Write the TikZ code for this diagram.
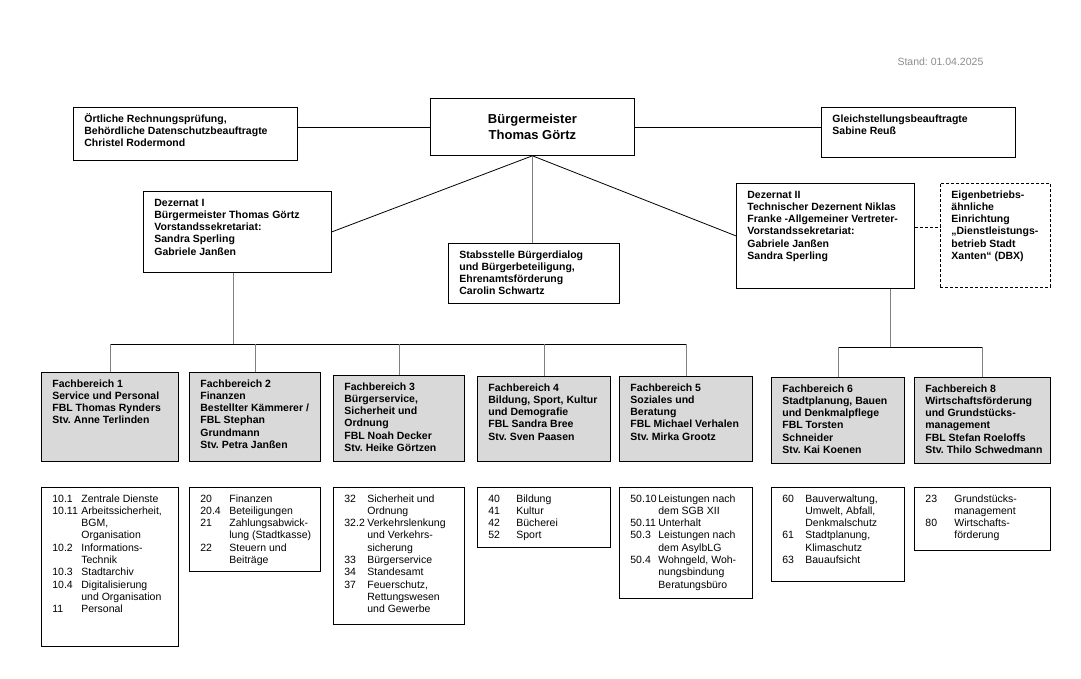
\documentclass[tikz,border=0pt]{standalone}
\usepackage{fontspec}
\setmainfont{Liberation Sans}
\usepackage{xcolor}
\frenchspacing

\definecolor{fbgray}{RGB}{217,217,217}
\definecolor{linegray}{RGB}{128,128,128}
\definecolor{standgray}{RGB}{140,140,140}

\newcommand{\boxtxt}[3]{%
\begin{minipage}[t][#2][t]{#1}\vspace*{6pt}\hspace*{11pt}%
\begin{tabular}[t]{@{}l@{}}#3\end{tabular}\end{minipage}}
\newcommand{\listtxt}[4]{%
\begin{minipage}[t][#2][t]{#1}\vspace*{6pt}\hspace*{11pt}%
\begin{tabular}[t]{@{}p{#3}@{}l@{}}#4\end{tabular}\end{minipage}}

\begin{document}
\begin{tikzpicture}[x=1pt,y=-1pt,
  box/.style={draw, line width=0.8pt, anchor=north west, inner sep=0pt,
    font=\fontsize{10.5}{12.3}\selectfont\bfseries},
  fbbox/.style={box, fill=fbgray},
  lstbox/.style={box, font=\fontsize{10.5}{12.3}\selectfont},
  dbxbox/.style={box, dash pattern=on 3pt off 2pt},
  link/.style={line width=0.8pt},
  drop/.style={line width=0.8pt, draw=linegray}]
\useasboundingbox (0,0) rectangle (1081,678);

\node[anchor=west, text=standgray, font=\fontsize{10.5}{12.3}\selectfont] (stand) at (894,62) {Stand: 01.04.2025};

\node[box, font=\fontsize{13}{16}\selectfont\bfseries, minimum width=204pt, minimum height=57pt, align=center] (bm) at (430,98) {Bürgermeister\\Thomas Görtz};
\node[box] (rpa) at (73,107) {\boxtxt{224pt}{53pt}{Örtliche Rechnungsprüfung,\\Behördliche Datenschutzbeauftragte\\Christel Rodermond}};
\node[box] (gst) at (821,107) {\boxtxt{194pt}{50pt}{Gleichstellungsbeauftragte\\Sabine Reuß}};

\node[box] (dzI) at (143,191) {\boxtxt{188pt}{81pt}{Dezernat I\\Bürgermeister Thomas Görtz\\Vorstandssekretariat:\\Sandra Sperling\\Gabriele Janßen}};
\node[box] (stab) at (448,243) {\boxtxt{171pt}{60pt}{Stabsstelle Bürgerdialog\\und Bürgerbeteiligung,\\Ehrenamtsförderung\\Carolin Schwartz}};
\node[box] (dzII) at (736,183) {\boxtxt{178pt}{105pt}{Dezernat II\\Technischer Dezernent Niklas\\Franke -Allgemeiner Vertreter-\\Vorstandssekretariat:\\Gabriele Janßen\\Sandra Sperling}};
\node[dbxbox] (dbx) at (940,183) {\boxtxt{110pt}{104pt}{Eigenbetriebs-\\ähnliche\\Einrichtung\\„Dienstleistungs-\\betrieb Stadt\\Xanten“ (DBX)}};

\node[fbbox] (fb1) at (41,372) {\boxtxt{137pt}{89pt}{Fachbereich 1\\Service und Personal\\FBL Thomas Rynders\\Stv. Anne Terlinden}};
\node[fbbox] (fb2) at (189,372) {\boxtxt{131pt}{89pt}{Fachbereich 2\\Finanzen\\Bestellter Kämmerer /\\FBL Stephan\\Grundmann\\Stv. Petra Janßen}};
\node[fbbox] (fb3) at (333,375) {\boxtxt{131pt}{86pt}{Fachbereich 3\\Bürgerservice,\\Sicherheit und\\Ordnung\\FBL Noah Decker\\Stv. Heike Görtzen}};
\node[fbbox] (fb4) at (477,376) {\boxtxt{133pt}{85pt}{Fachbereich 4\\Bildung, Sport, Kultur\\und Demografie\\FBL Sandra Bree\\Stv. Sven Paasen}};
\node[fbbox] (fb5) at (619,376) {\boxtxt{133pt}{85pt}{Fachbereich 5\\Soziales und\\Beratung\\FBL Michael Verhalen\\Stv. Mirka Grootz}};
\node[fbbox] (fb6) at (771,377) {\boxtxt{133pt}{86pt}{Fachbereich 6\\Stadtplanung, Bauen\\und Denkmalpflege\\FBL Torsten\\Schneider\\Stv. Kai Koenen}};
\node[fbbox] (fb8) at (914,377) {\boxtxt{136pt}{86pt}{Fachbereich 8\\Wirtschaftsförderung\\und Grundstücks-\\management\\FBL Stefan Roeloffs\\Stv. Thilo Schwedmann}};

\node[lstbox] (ls1) at (41,487) {\listtxt{137pt}{159pt}{29pt}{10.1 & Zentrale Dienste\\10.11 & Arbeitssicherheit,\\ & BGM,\\ & Organisation\\10.2 & Informations-\\ & Technik\\10.3 & Stadtarchiv\\10.4 & Digitalisierung\\ & und Organisation\\11 & Personal}};
\node[lstbox] (ls2) at (189,487) {\listtxt{131pt}{84pt}{29pt}{20 & Finanzen\\20.4 & Beteiligungen\\21 & Zahlungsabwick-\\ & lung (Stadtkasse)\\22 & Steuern und\\ & Beiträge}};
\node[lstbox] (ls3) at (333,487) {\listtxt{131pt}{137pt}{23pt}{32 & Sicherheit und\\ & Ordnung\\32.2 & Verkehrslenkung\\ & und Verkehrs-\\ & sicherung\\33 & Bürgerservice\\34 & Standesamt\\37 & Feuerschutz,\\ & Rettungswesen\\ & und Gewerbe}};
\node[lstbox] (ls4) at (477,487) {\listtxt{133pt}{60pt}{28pt}{40 & Bildung\\41 & Kultur\\42 & Bücherei\\52 & Sport}};
\node[lstbox] (ls5) at (619,487) {\listtxt{133pt}{111pt}{28pt}{50.10 & Leistungen nach\\ & dem SGB XII\\50.11 & Unterhalt\\50.3 & Leistungen nach\\ & dem AsylbLG\\50.4 & Wohngeld, Woh-\\ & nungsbindung\\ & Beratungsbüro}};
\node[lstbox] (ls6) at (771,487) {\listtxt{133pt}{94pt}{23pt}{60 & Bauverwaltung,\\ & Umwelt, Abfall,\\ & Denkmalschutz\\61 & Stadtplanung,\\ & Klimaschutz\\63 & Bauaufsicht}};
\node[lstbox] (ls8) at (914,487) {\listtxt{136pt}{63pt}{29pt}{23 & Grundstücks-\\ & management\\80 & Wirtschafts-\\ & förderung}};

\draw[link] (rpa.east |- bm.west) -- (bm.west);
\draw[link] (bm.east) -- (gst.west |- bm.east);
\draw[link] (bm.south) -- (dzI.east);
\draw[link] (bm.south) -- (dzII.west);
\draw[drop] (bm.south) -- (bm.south |- stab.north);
\draw[link, dash pattern=on 3pt off 2pt] ([yshift=9pt]dzII.east) -- ([yshift=9pt]dzII.east -| dbx.west);

\coordinate (busI) at (0,344);
\coordinate (busII) at (0,347);
\draw[drop] ([xshift=-4pt]dzI.south) -- ([xshift=-4pt]dzI.south |- busI);
\draw[link] (fb1.north |- busI) -- (fb5.north |- busI);
\foreach \f in {fb1,fb2,fb3,fb4,fb5}
  \draw[drop] (\f.north |- busI) -- (\f.north);
\draw[drop] ([xshift=-24pt]dzII.south east) -- ([xshift=-24pt]dzII.south east |- busII);
\draw[link] (fb6.north |- busII) -- (fb8.north |- busII);
\foreach \f in {fb6,fb8}
  \draw[drop] (\f.north |- busII) -- (\f.north);

\end{tikzpicture}
\end{document}
